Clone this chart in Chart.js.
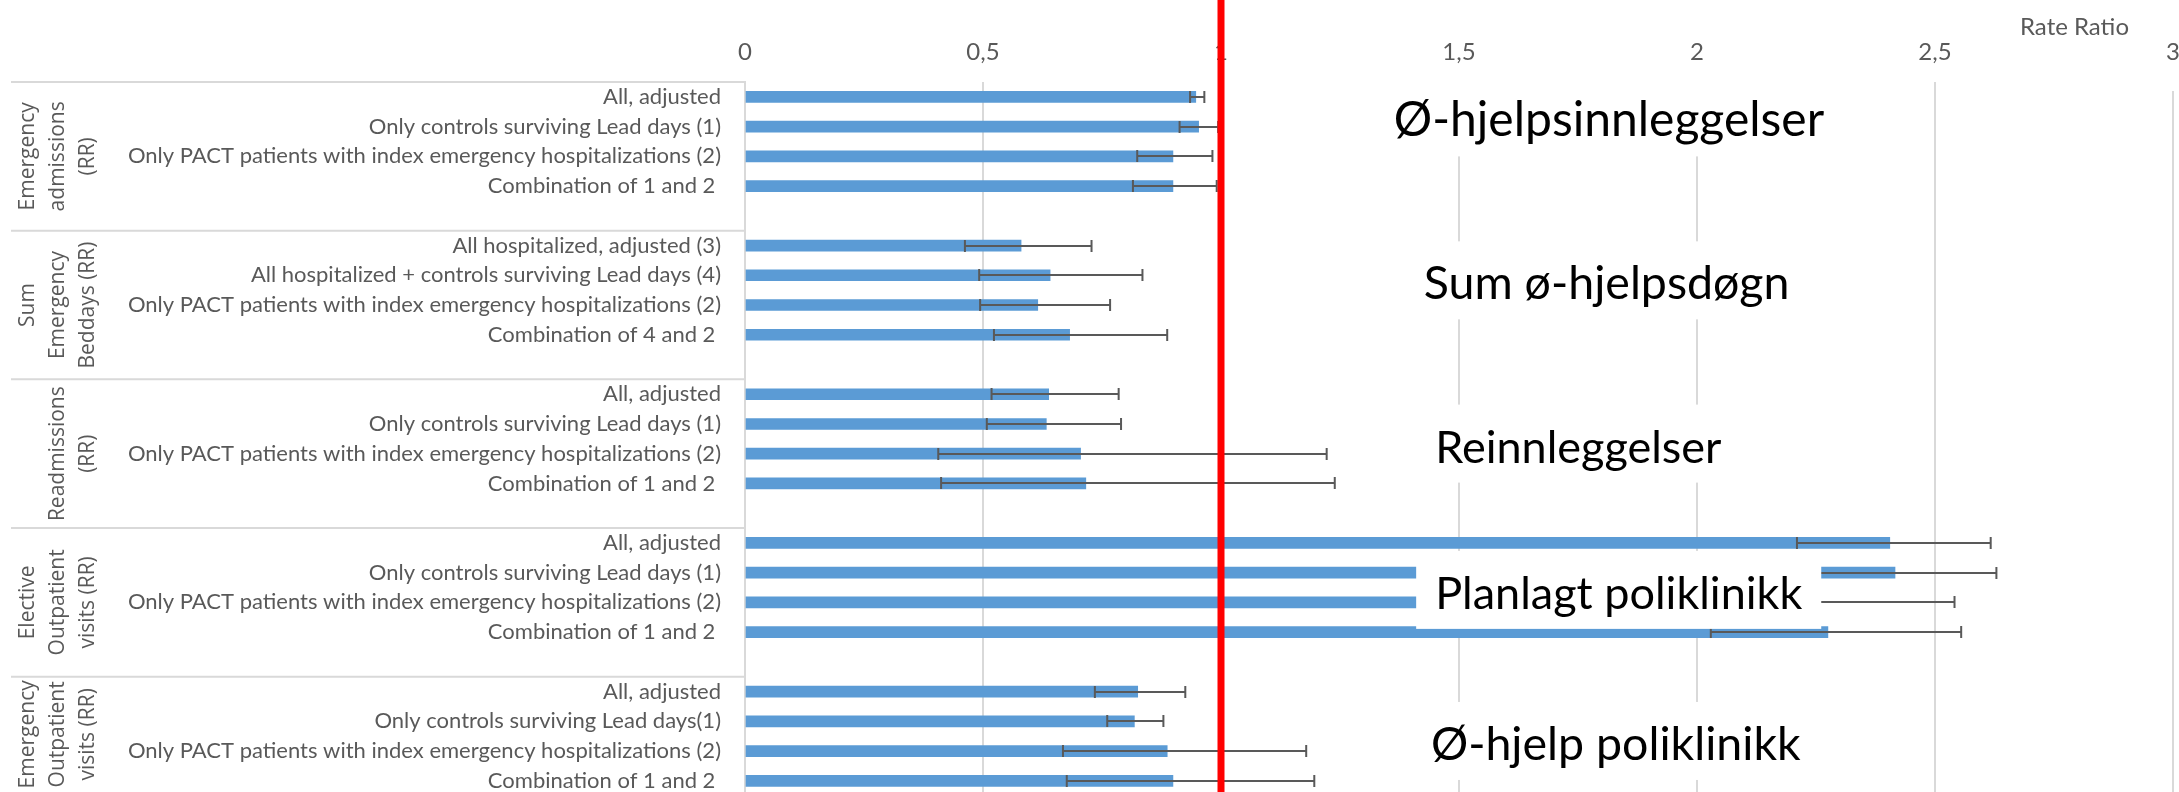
<!DOCTYPE html>
<html>
<head>
<meta charset="utf-8">
<style>
  html, body { margin: 0; padding: 0; background: #ffffff; overflow: hidden; }
  #wrap { width: 2179px; height: 792px; overflow: hidden; position: relative; }
  canvas { display: block; }
</style>
<script src="https://cdn.jsdelivr.net/npm/chart.js@4.4.1/dist/chart.umd.min.js"></script>
</head>
<body>
<div id="wrap"><canvas id="chart" width="2179" height="830"></canvas></div>
<script>
// Outcome groups (stacked lines of the rotated group captions)
const groupTitles = [
  ['Emergency', 'admissions', '(RR)'],
  ['Sum', 'Emergency', 'Beddays (RR)'],
  ['Readmissions', '(RR)'],
  ['Elective', 'Outpatient', 'visits (RR)'],
  ['Emergency', 'Outpatient', 'visits (RR)']
];

// One row per analysis; an empty row closes each group
const rowLabels = [
  'All, adjusted', 'Only controls surviving Lead days (1)', 'Only PACT patients with index emergency hospitalizations (2)', 'Combination of 1 and 2 ', '',
  'All hospitalized, adjusted (3)', 'All hospitalized + controls surviving Lead days (4)', 'Only PACT patients with index emergency hospitalizations (2)', 'Combination of 4 and 2 ', '',
  'All, adjusted', 'Only controls surviving Lead days (1)', 'Only PACT patients with index emergency hospitalizations (2)', 'Combination of 1 and 2 ', '',
  'All, adjusted', 'Only controls surviving Lead days (1)', 'Only PACT patients with index emergency hospitalizations (2)', 'Combination of 1 and 2 ', '',
  'All, adjusted', 'Only controls surviving Lead days(1)', 'Only PACT patients with index emergency hospitalizations (2)', 'Combination of 1 and 2 ', ''
];

// Rate ratios
const rateRatio = [
  0.947, 0.953, 0.899, 0.899, null,
  0.580, 0.641, 0.615, 0.682, null,
  0.638, 0.633, 0.705, 0.716, null,
  2.405, 2.416, 2.250, 2.275, null,
  0.825, 0.818, 0.887, 0.899, null
];

// Lower confidence limits
const ciLow = [
  0.935, 0.913, 0.824, 0.815, null,
  0.462, 0.492, 0.494, 0.523, null,
  0.518, 0.508, 0.406, 0.412, null,
  2.210, 2.240, 2.000, 2.029, null,
  0.735, 0.761, 0.668, 0.676, null
];

// Upper confidence limits
const ciHigh = [
  0.965, 0.994, 0.982, 0.991, null,
  0.728, 0.835, 0.767, 0.887, null,
  0.785, 0.790, 1.222, 1.239, null,
  2.617, 2.629, 2.541, 2.555, null,
  0.925, 0.879, 1.179, 1.196, null
];

// Value axis
const axisMin = 0;
const axisMax = 3;
const axisStep = 0.5;
const axisTitle = 'Rate Ratio';
const nullEffect = 1;

// Norwegian captions for each group
const groupNotes = [
  'Ø-hjelpsinnleggelser',
  'Sum ø-hjelpsdøgn',
  'Reinnleggelser',
  'Planlagt poliklinikk',
  'Ø-hjelp poliklinikk'
];

const GREY_TEXT = '#595959';
const GRID = '#D9D9D9';
const LABEL_FONT = 'Lato';
const GROUP_FONT = '"Open Sans"';
const NOTE_FONT = 'Lato';
const VIEW_HEIGHT = 792;

// Caption boxes: row position (in row units), box start and text start (in axis units)
const noteLayout = [
  { row: 0.69, boxAt: 1.34, textAt: 1.363, size: 48 },
  { row: 6.17, boxAt: 1.41, textAt: 1.426, size: 46.5 },
  { row: 11.66, boxAt: 1.41, textAt: 1.450, size: 45 },
  { row: 16.58, boxAt: 1.41, textAt: 1.450, size: 45 },
  { row: 21.66, boxAt: 1.41, textAt: 1.441, size: 46.5 }
];

const overlay = {
  id: 'overlay',
  afterDatasetsDraw(chart) {
    const { ctx, scales: { x, y } } = chart;
    ctx.save();
    ctx.strokeStyle = '#595959';
    ctx.lineWidth = 2;
    rateRatio.forEach((v, i) => {
      if (v === null) return;
      const py = Math.round(y.getPixelForValue(i));
      const a = x.getPixelForValue(ciLow[i]);
      const b = x.getPixelForValue(ciHigh[i]);
      ctx.beginPath();
      ctx.moveTo(a, py); ctx.lineTo(b, py);
      ctx.moveTo(a, py - 6); ctx.lineTo(a, py + 6);
      ctx.moveTo(b, py - 6); ctx.lineTo(b, py + 6);
      ctx.stroke();
    });
    ctx.restore();
  },
  afterDraw(chart) {
    const { ctx, scales: { x, y } } = chart;
    const groupSize = 5;
    ctx.save();

    // category frame: horizontal separators between groups
    ctx.strokeStyle = GRID;
    ctx.lineWidth = 2;
    for (let g = 0; g <= groupTitles.length; g++) {
      const py = y.getPixelForValue(g * groupSize - 0.5);
      ctx.beginPath();
      ctx.moveTo(11, py);
      ctx.lineTo(x.left, py);
      ctx.stroke();
    }

    // rotated group captions, centred on the visible part of each group
    ctx.fillStyle = GREY_TEXT;
    ctx.font = '21px ' + GROUP_FONT;
    ctx.textAlign = 'center';
    ctx.textBaseline = 'middle';
    groupTitles.forEach((lines, g) => {
      const top = y.getPixelForValue(g * groupSize - 0.5);
      const bottom = Math.min(y.getPixelForValue(g * groupSize + 4.5), VIEW_HEIGHT);
      const cyMid = (top + bottom) / 2;
      lines.forEach((line, k) => {
        const cx = 88 - 30 * (lines.length - 1 - k);
        ctx.save();
        ctx.translate(cx, cyMid);
        ctx.rotate(-Math.PI / 2);
        ctx.fillText(line, 0, 0);
        ctx.restore();
      });
    });

    // reference line at rate ratio 1
    const rx = x.getPixelForValue(nullEffect);
    ctx.fillStyle = '#FF0000';
    ctx.fillRect(rx - 3.5, 0, 7, chart.height);

    // caption boxes
    const boxRight = x.getPixelForValue(2.261);
    ctx.textAlign = 'left';
    ctx.textBaseline = 'alphabetic';
    groupNotes.forEach((txt, g) => {
      const L = noteLayout[g];
      const cy = y.getPixelForValue(L.row);
      const boxLeft = x.getPixelForValue(L.boxAt);
      ctx.fillStyle = '#FFFFFF';
      ctx.fillRect(boxLeft, cy - 39, boxRight - boxLeft, 78);
      ctx.fillStyle = '#000000';
      ctx.font = L.size + 'px ' + NOTE_FONT;
      ctx.fillText(txt, x.getPixelForValue(L.textAt), cy + 19);
    });

    // axis title
    ctx.fillStyle = '#FFFFFF';
    ctx.fillRect(1960, 66, chart.width - 1960, y.top + 9 - 66);
    ctx.fillStyle = GREY_TEXT;
    ctx.font = '24px ' + LABEL_FONT;
    ctx.textBaseline = 'middle';
    ctx.fillText(axisTitle, 2020, 27);

    ctx.restore();
  }
};

function build() {
  new Chart(document.getElementById('chart'), {
    type: 'bar',
    data: {
      labels: rowLabels,
      datasets: [{
        data: rateRatio,
        backgroundColor: '#5B9BD5',
        borderWidth: 0,
        barThickness: 11
      }]
    },
    options: {
      indexAxis: 'y',
      responsive: false,
      animation: false,
      events: [],
      layout: { padding: { left: 0, right: 6, top: 0, bottom: 4.6 } },
      plugins: { legend: { display: false }, tooltip: { enabled: false } },
      scales: {
        x: {
          type: 'linear',
          position: 'top',
          min: axisMin,
          max: axisMax,
          ticks: {
            stepSize: axisStep,
            padding: 15,
            color: GREY_TEXT,
            font: { family: LABEL_FONT, size: 24 },
            callback: v => String(v).replace('.', ',')
          },
          grid: { color: GRID, lineWidth: 2, drawTicks: false },
          border: { display: false },
          afterFit(s) { s.height = 82; s.paddingLeft = 0; s.paddingRight = 0; }
        },
        y: {
          type: 'category',
          offset: true,
          ticks: {
            autoSkip: false,
            padding: 24,
            color: GREY_TEXT,
            font: { family: LABEL_FONT, size: 22 }
          },
          grid: { display: false, drawTicks: false },
          border: { display: true, color: GRID, width: 2 },
          afterFit(s) { s.width = 745; s.paddingTop = 0; s.paddingBottom = 0; }
        }
      }
    },
    plugins: [overlay]
  });
}

Promise.all([
  document.fonts.load('22px Lato'),
  document.fonts.load('45px Lato'),
  document.fonts.load('21px "Open Sans"')
]).catch(() => {}).then(build);
</script>
</body>
</html>
